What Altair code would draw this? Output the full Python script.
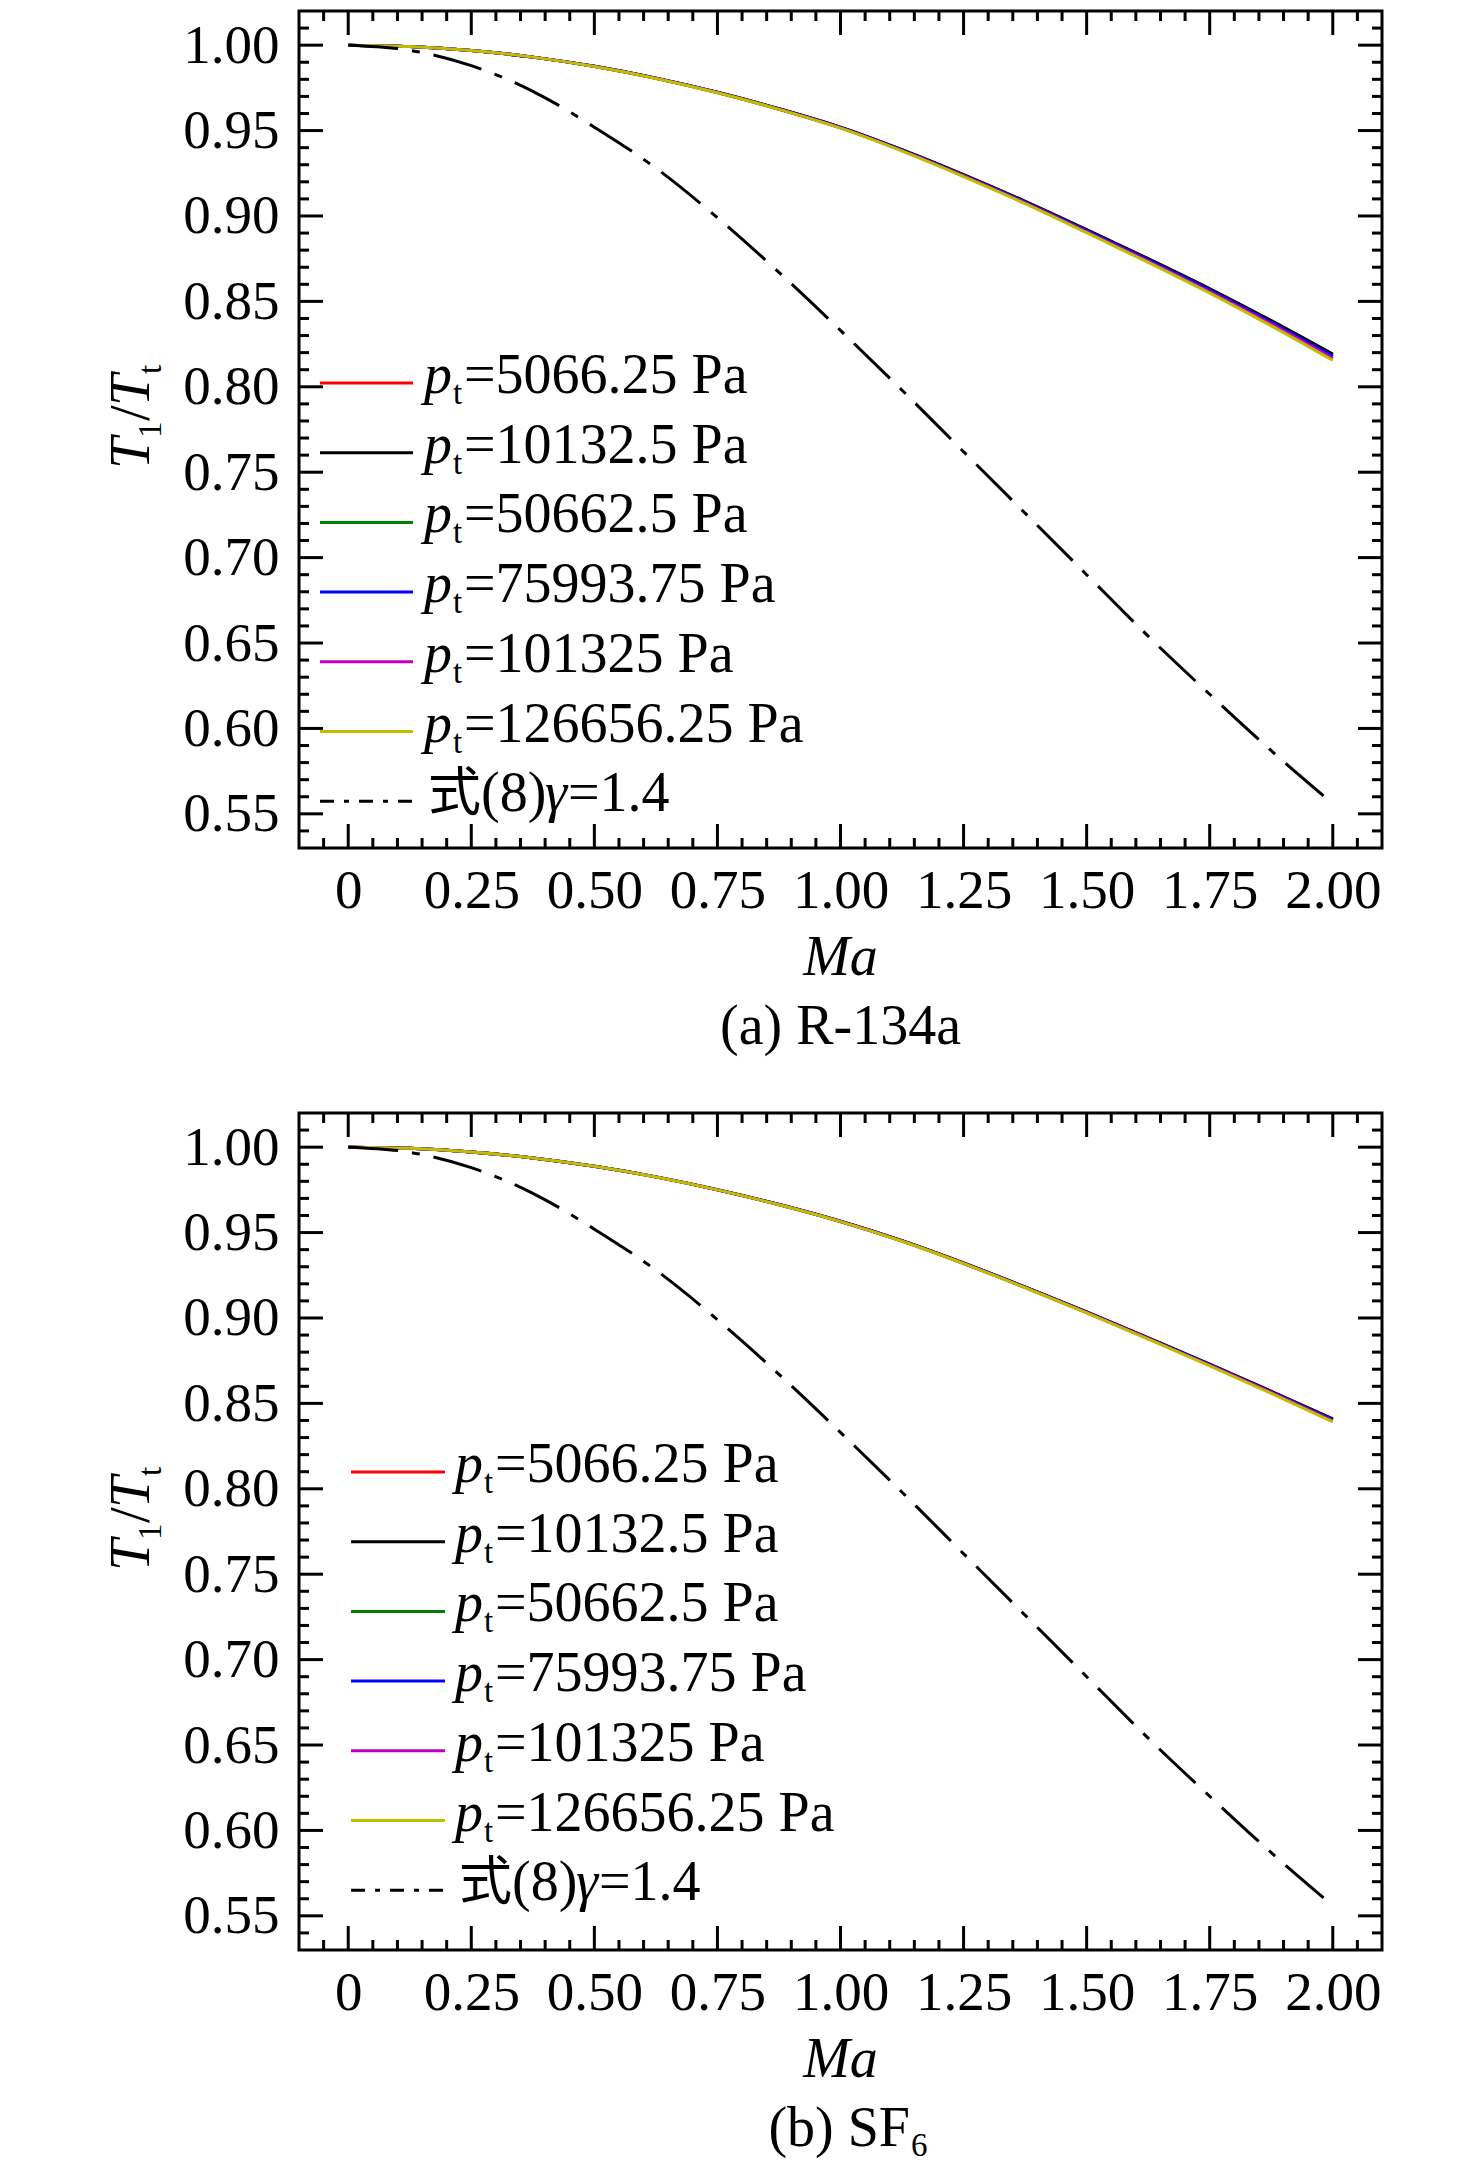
import altair as alt
import pandas as pd

# ---------------- data ----------------
MA = [0.0, 0.125, 0.25, 0.375, 0.5, 0.625, 0.75, 0.875, 1.0,
      1.125, 1.25, 1.375, 1.5, 1.625, 1.75, 1.875, 2.0]

P_LABELS = ["5066.25", "10132.5", "50662.5", "75993.75", "101325", "126656.25"]
COLORS = ["#ff0000", "#000000", "#008000", "#0000ff", "#bf00bf", "#bfbf00"]

# (a) R-134a
R134A_5066 = [1.000, 0.9992, 0.9969, 0.9930, 0.9876, 0.9807, 0.9724, 0.9628, 0.9519,
              0.9387, 0.9241, 0.9085, 0.8919, 0.8749, 0.8573, 0.8386, 0.8189]
R134A_10132 = [1.000, 0.9992, 0.9969, 0.9930, 0.9876, 0.9807, 0.9724, 0.9628, 0.9520,
               0.9388, 0.9242, 0.9086, 0.8920, 0.8750, 0.8574, 0.8387, 0.8191]
R134A_50662 = [1.000, 0.9992, 0.9969, 0.9930, 0.9876, 0.9806, 0.9723, 0.9626, 0.9517,
               0.9385, 0.9238, 0.9081, 0.8914, 0.8742, 0.8565, 0.8376, 0.8178]
R134A_75993 = [1.000, 0.9992, 0.9969, 0.9930, 0.9876, 0.9806, 0.9723, 0.9626, 0.9518,
               0.9385, 0.9238, 0.9081, 0.8914, 0.8743, 0.8566, 0.8377, 0.8179]
R134A_101325 = [1.000, 0.9992, 0.9969, 0.9930, 0.9875, 0.9806, 0.9722, 0.9625, 0.9516,
                0.9383, 0.9235, 0.9077, 0.8908, 0.8736, 0.8557, 0.8368, 0.8167]
R134A_126656 = [1.000, 0.9992, 0.9969, 0.9930, 0.9875, 0.9805, 0.9721, 0.9624, 0.9514,
                0.9380, 0.9231, 0.9072, 0.8902, 0.8728, 0.8548, 0.8357, 0.8155]

# (b) SF6
SF6_5066 = [1.000, 0.9993, 0.9972, 0.9937, 0.9888, 0.9826, 0.9751, 0.9664, 0.9566,
            0.9452, 0.9321, 0.9181, 0.9035, 0.8883, 0.8729, 0.8570, 0.8408]
SF6_10132 = [1.000, 0.9993, 0.9972, 0.9937, 0.9888, 0.9826, 0.9751, 0.9664, 0.9566,
             0.9452, 0.9322, 0.9182, 0.9036, 0.8884, 0.8730, 0.8571, 0.8410]
SF6_50662 = [1.000, 0.9993, 0.9972, 0.9937, 0.9888, 0.9826, 0.9750, 0.9664, 0.9565,
             0.9451, 0.9320, 0.9180, 0.9033, 0.8881, 0.8726, 0.8566, 0.8403]
SF6_75993 = [1.000, 0.9993, 0.9972, 0.9937, 0.9888, 0.9826, 0.9750, 0.9664, 0.9565,
             0.9451, 0.9320, 0.9180, 0.9034, 0.8881, 0.8727, 0.8567, 0.8404]
SF6_101325 = [1.000, 0.9993, 0.9972, 0.9937, 0.9888, 0.9825, 0.9750, 0.9663, 0.9565,
              0.9450, 0.9319, 0.9179, 0.9032, 0.8879, 0.8724, 0.8564, 0.8398]
SF6_126656 = [1.000, 0.9993, 0.9972, 0.9937, 0.9888, 0.9825, 0.9750, 0.9663, 0.9564,
              0.9449, 0.9318, 0.9177, 0.9030, 0.8876, 0.8720, 0.8559, 0.8392]

# Eq.(8), gamma = 1.4 (same curve in both panels)
IDEAL = [1.000, 0.997, 0.988, 0.973, 0.952, 0.928, 0.899, 0.867, 0.833,
         0.798, 0.762, 0.726, 0.690, 0.654, 0.620, 0.587, 0.556]

X_MAJOR = [0.0, 0.25, 0.5, 0.75, 1.0, 1.25, 1.5, 1.75, 2.0]
Y_MAJOR = [0.55, 0.6, 0.65, 0.7, 0.75, 0.8, 0.85, 0.9, 0.95, 1.0]
X_MINOR = [round(-0.05 + 0.05 * i, 2) for i in range(44)]
X_MINOR = [v for v in X_MINOR if v < 2.09 and all(abs(v - m) > 1e-6 for m in X_MAJOR)]
Y_MINOR = [round(0.54 + 0.01 * i, 2) for i in range(48)]
Y_MINOR = [v for v in Y_MINOR if v < 1.015 and all(abs(v - m) > 1e-6 for m in Y_MAJOR)]

# ---------------- styling ----------------
W, H = 1083, 837
FONT = "Liberation Serif"
CJK = "Liberation Serif, Noto Sans CJK SC"
FS = 55      # tick labels
LFS = 56     # legend / captions
SUB = 33
MAJ, MIN = 24, 10

xs = alt.Scale(domain=[-0.1, 2.1], nice=False, zero=False)
ys = alt.Scale(domain=[0.53, 1.02], nice=False, zero=False)
xaxis = alt.Axis(values=X_MAJOR, title=None, ticks=False, domain=False, grid=False,
                 labelExpr="datum.value == 0 ? '0' : format(datum.value, '.2f')",
                 labelFont=FONT, labelFontSize=FS, labelColor="black",
                 labelPadding=16, labelFlush=False, labelOverlap=False)
yaxis = alt.Axis(values=Y_MAJOR, title=None, ticks=False, domain=False, grid=False,
                 format=".2f", labelFont=FONT, labelFontSize=FS, labelColor="black",
                 labelPadding=20, labelOverlap=False)


def txt(s, x, y, size=LFS, style="normal", angle=0, font=FONT, align="left"):
    return alt.Chart(pd.DataFrame({"s": [s]})).mark_text(
        align=align, baseline="alphabetic", font=font, fontSize=size,
        fontStyle=style, angle=angle, color="black"
    ).encode(x=alt.value(x), y=alt.value(y), text="s:N")


def ticks(values, length, axis_name, side):
    df = pd.DataFrame({"v": values})
    base = alt.Chart(df).mark_rule(color="black", strokeWidth=3)
    if axis_name == "x":
        enc = dict(x=alt.X("v:Q", scale=xs, axis=xaxis))
        if side == "bottom":
            enc.update(y=alt.value(H), y2=alt.value(H - length))
        else:
            enc.update(y=alt.value(0), y2=alt.value(length))
    else:
        enc = dict(y=alt.Y("v:Q", scale=ys, axis=yaxis))
        if side == "left":
            enc.update(x=alt.value(0), x2=alt.value(length))
        else:
            enc.update(x=alt.value(W), x2=alt.value(W - length))
    return base.encode(**enc)


def panel(series, lx1, lx2, tx, ly0, caption_layers):
    layers = []
    for vals, col in zip(series, COLORS):
        df = pd.DataFrame({"Ma": MA, "T": vals})
        layers.append(alt.Chart(df).mark_line(color=col, strokeWidth=3,
                                              interpolate="monotone").encode(
            x=alt.X("Ma:Q", scale=xs, axis=xaxis),
            y=alt.Y("T:Q", scale=ys, axis=yaxis)))
    dfi = pd.DataFrame({"Ma": MA, "T": IDEAL})
    layers.append(alt.Chart(dfi).mark_line(color="black", strokeWidth=3,
                                           strokeDash=[50, 14, 8, 14],
                                           interpolate="monotone").encode(
        x=alt.X("Ma:Q", scale=xs, axis=xaxis),
        y=alt.Y("T:Q", scale=ys, axis=yaxis)))
    # inward ticks on all four sides
    for side in ["bottom", "top"]:
        layers.append(ticks(X_MAJOR, MAJ, "x", side))
        layers.append(ticks(X_MINOR, MIN, "x", side))
    for side in ["left", "right"]:
        layers.append(ticks(Y_MAJOR, MAJ, "y", side))
        layers.append(ticks(Y_MINOR, MIN, "y", side))
    # legend
    step = 69.7
    for i, (lab, col) in enumerate(zip(P_LABELS, COLORS)):
        ry = ly0 + step * i
        layers.append(alt.Chart(pd.DataFrame({"s": [lab]})).mark_rule(
            color=col, strokeWidth=3).encode(
            x=alt.value(lx1), x2=alt.value(lx2), y=alt.value(ry)))
        layers.append(txt("p", tx, ry + 10, style="italic"))
        layers.append(txt("t", tx + 29, ry + 21, size=SUB))
        layers.append(txt("=" + lab + " Pa", tx + 40, ry + 10))
    ry = ly0 + step * 6
    layers.append(alt.Chart(pd.DataFrame({"s": ["eq8"]})).mark_rule(
        color="black", strokeWidth=3, strokeDash=[14, 10, 5, 10]).encode(
        x=alt.value(lx1), x2=alt.value(lx2), y=alt.value(ry)))
    layers.append(txt("式", tx + 4, ry + 10, size=53, font=CJK))
    layers.append(txt("(8)", tx + 57, ry + 10))
    layers.append(txt("γ", tx + 121, ry + 10, style="italic"))
    layers.append(txt("=1.4", tx + 144, ry + 10))
    # y title T1/Tt (rotated)
    layers.append(txt("T", -150, 458, size=57, style="italic", angle=270))
    layers.append(txt("1", -138, 427, size=SUB, angle=270))
    layers.append(txt("/", -150, 410, size=57, angle=270))
    layers.append(txt("T", -150, 395, size=57, style="italic", angle=270))
    layers.append(txt("t", -138, 363, size=SUB, angle=270))
    # x title
    layers.append(txt("Ma", W / 2, H + 127, size=LFS, style="italic", align="center"))
    layers.extend(caption_layers)
    return alt.layer(*layers).properties(width=W, height=H)


cap_a = [txt("(a) R-134a", W / 2, H + 196, size=LFS, align="center")]
cap_b = [txt("(b) SF", 611, H + 196, size=LFS, align="right"),
         txt("6", 612, H + 206, size=SUB)]

p1 = panel([R134A_5066, R134A_10132, R134A_50662, R134A_75993, R134A_101325, R134A_126656],
           21, 114, 125, 372, cap_a)
p2 = panel([SF6_5066, SF6_10132, SF6_50662, SF6_75993, SF6_101325, SF6_126656],
           52, 146, 156, 359, cap_b)

chart = alt.vconcat(p1, p2, spacing=53).properties(
    padding={"left": 93, "top": 0, "right": 5, "bottom": 0},
    background="white"
).configure_view(stroke="black", strokeWidth=3)

chart.save("out.html", embed_options={"renderer": "svg", "actions": False})
